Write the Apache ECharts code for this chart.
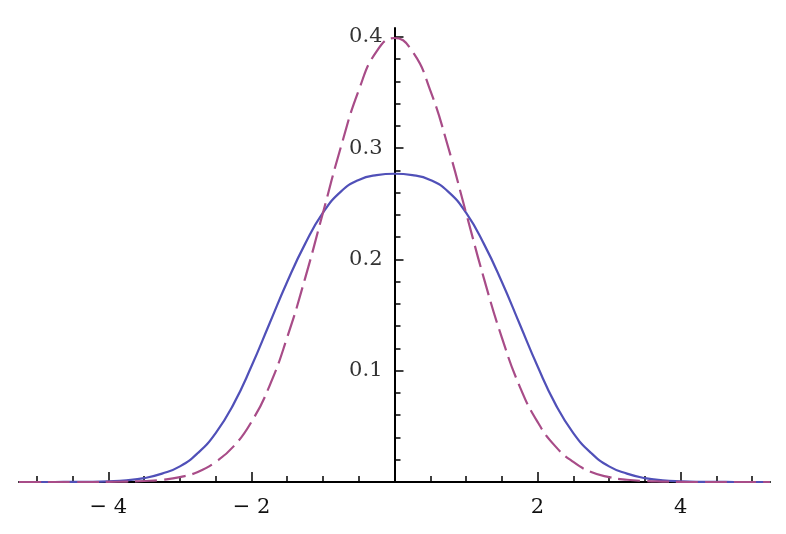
<!DOCTYPE html>
<html>
<head>
<meta charset="utf-8">
<script src="https://cdn.jsdelivr.net/npm/echarts@6/dist/echarts.min.js"></script>
<style>
  html, body { margin: 0; padding: 0; background: #fff; }
  #chart { width: 786px; height: 534px; }
</style>
</head>
<body>
<div id="chart"></div>
<script>
// x positions of the sampled points
var xs = [-5.25, -5, -4.75, -4.5, -4.25, -4, -3.75, -3.5, -3.25, -3, -2.75, -2.5, -2.25, -2,
  -1.75, -1.5, -1.25, -1, -0.75, -0.5, -0.25, 0, 0.25, 0.5, 0.75, 1, 1.25, 1.5, 1.75,
  2, 2.25, 2.5, 2.75, 3, 3.25, 3.5, 3.75, 4, 4.25, 4.5, 4.75, 5, 5.25];
// solid blue curve (flat top)
var flatCurve = [0, 0, 0, 0.0001, 0.0002, 0.0006, 0.0015, 0.0035, 0.0075, 0.014, 0.026, 0.044,
  0.070, 0.104, 0.142, 0.180, 0.214, 0.242, 0.261, 0.2715, 0.2758, 0.277, 0.2758, 0.2715, 0.261,
  0.242, 0.214, 0.180, 0.142, 0.104, 0.070, 0.044, 0.026, 0.014, 0.0075, 0.0035, 0.0015,
  0.0006, 0.0002, 0.0001, 0, 0, 0];
// dashed purple curve (bell)
var bellCurve = [0, 0, 0, 0, 0, 0.0001, 0.0004, 0.0009, 0.002, 0.0044, 0.009, 0.018, 0.032,
  0.054, 0.086, 0.130, 0.183, 0.242, 0.301, 0.352, 0.387, 0.399, 0.387, 0.352, 0.301, 0.242,
  0.183, 0.130, 0.086, 0.054, 0.032, 0.018, 0.009, 0.0044, 0.002, 0.0009, 0.0004, 0.0001,
  0, 0, 0, 0, 0];
// ticks and labels
var xLabels = [-4, -2, 2, 4];
var xMajorTicks = [-4, -2, 2, 4];
var xMinorTicks = [-5, -4.5, -3.5, -3, -2.5, -1.5, -1, -0.5, 0.5, 1, 1.5, 2.5, 3, 3.5, 4.5, 5];
var yLabels = [0.1, 0.2, 0.3, 0.4];
var yMinorTicks = [0.02, 0.04, 0.06, 0.08, 0.12, 0.14, 0.16, 0.18, 0.22, 0.24, 0.26, 0.28,
  0.32, 0.34, 0.36, 0.38];

function pairs(ys) {
  return xs.map(function (x, i) { return [x, ys[i]]; });
}

var font = "DejaVu Serif";
var axisColor = "#000";
// y axis sits at x = 0, half way across the grid
var yShift = -375.5;

var chart = echarts.init(document.getElementById("chart"));
chart.setOption({
  animation: false,
  grid: { left: 19, right: 16, top: 28, bottom: 52, containLabel: false, outerBoundsMode: "none" },
  xAxis: [
    {
      type: "value",
      min: -5.25,
      max: 5.25,
      axisLine: { onZero: true, onZeroAxisIndex: 0, lineStyle: { color: axisColor, width: 2 } },
      axisTick: { inside: true, length: 10, customValues: xMajorTicks, lineStyle: { color: axisColor, width: 1.5 } },
      axisLabel: {
        customValues: xLabels,
        margin: 15,
        color: "#111",
        fontFamily: font,
        fontSize: 21,
        formatter: function (v) { return v < 0 ? "\u2212 " + (-v) : String(v); }
      },
      splitLine: { show: false }
    },
    {
      type: "value",
      min: -5.25,
      max: 5.25,
      position: "bottom",
      axisLine: { show: false, onZero: true, onZeroAxisIndex: 0 },
      axisTick: { inside: true, length: 6, customValues: xMinorTicks, lineStyle: { color: axisColor, width: 1.5 } },
      axisLabel: { show: false },
      splitLine: { show: false }
    }
  ],
  yAxis: [
    {
      type: "value",
      min: 0,
      max: 0.408,
      position: "left",
      offset: yShift,
      axisLine: { show: true, onZero: false, lineStyle: { color: axisColor, width: 2 } },
      axisTick: { show: true, inside: true, length: 9, customValues: yLabels, lineStyle: { color: axisColor, width: 1.5 } },
      axisLabel: {
        customValues: yLabels,
        margin: 12,
        color: "#333",
        fontFamily: font,
        fontSize: 21,
        formatter: function (v) { return v.toFixed(1); }
      },
      splitLine: { show: false }
    },
    {
      type: "value",
      min: 0,
      max: 0.408,
      position: "left",
      offset: yShift,
      axisLine: { show: false, onZero: false },
      axisTick: { show: true, inside: true, length: 6, customValues: yMinorTicks, lineStyle: { color: axisColor, width: 1.5 } },
      axisLabel: { show: false },
      splitLine: { show: false }
    }
  ],
  series: [
    {
      type: "line",
      data: pairs(flatCurve),
      smooth: 0.5,
      showSymbol: false,
      lineStyle: { color: "#5050b8", width: 2.2 },
      z: 3
    },
    {
      type: "line",
      data: pairs(bellCurve),
      smooth: 0.5,
      showSymbol: false,
      lineStyle: { color: "#a84c88", width: 2.2, type: [22, 7] },
      z: 4
    }
  ]
});
</script>
</body>
</html>
